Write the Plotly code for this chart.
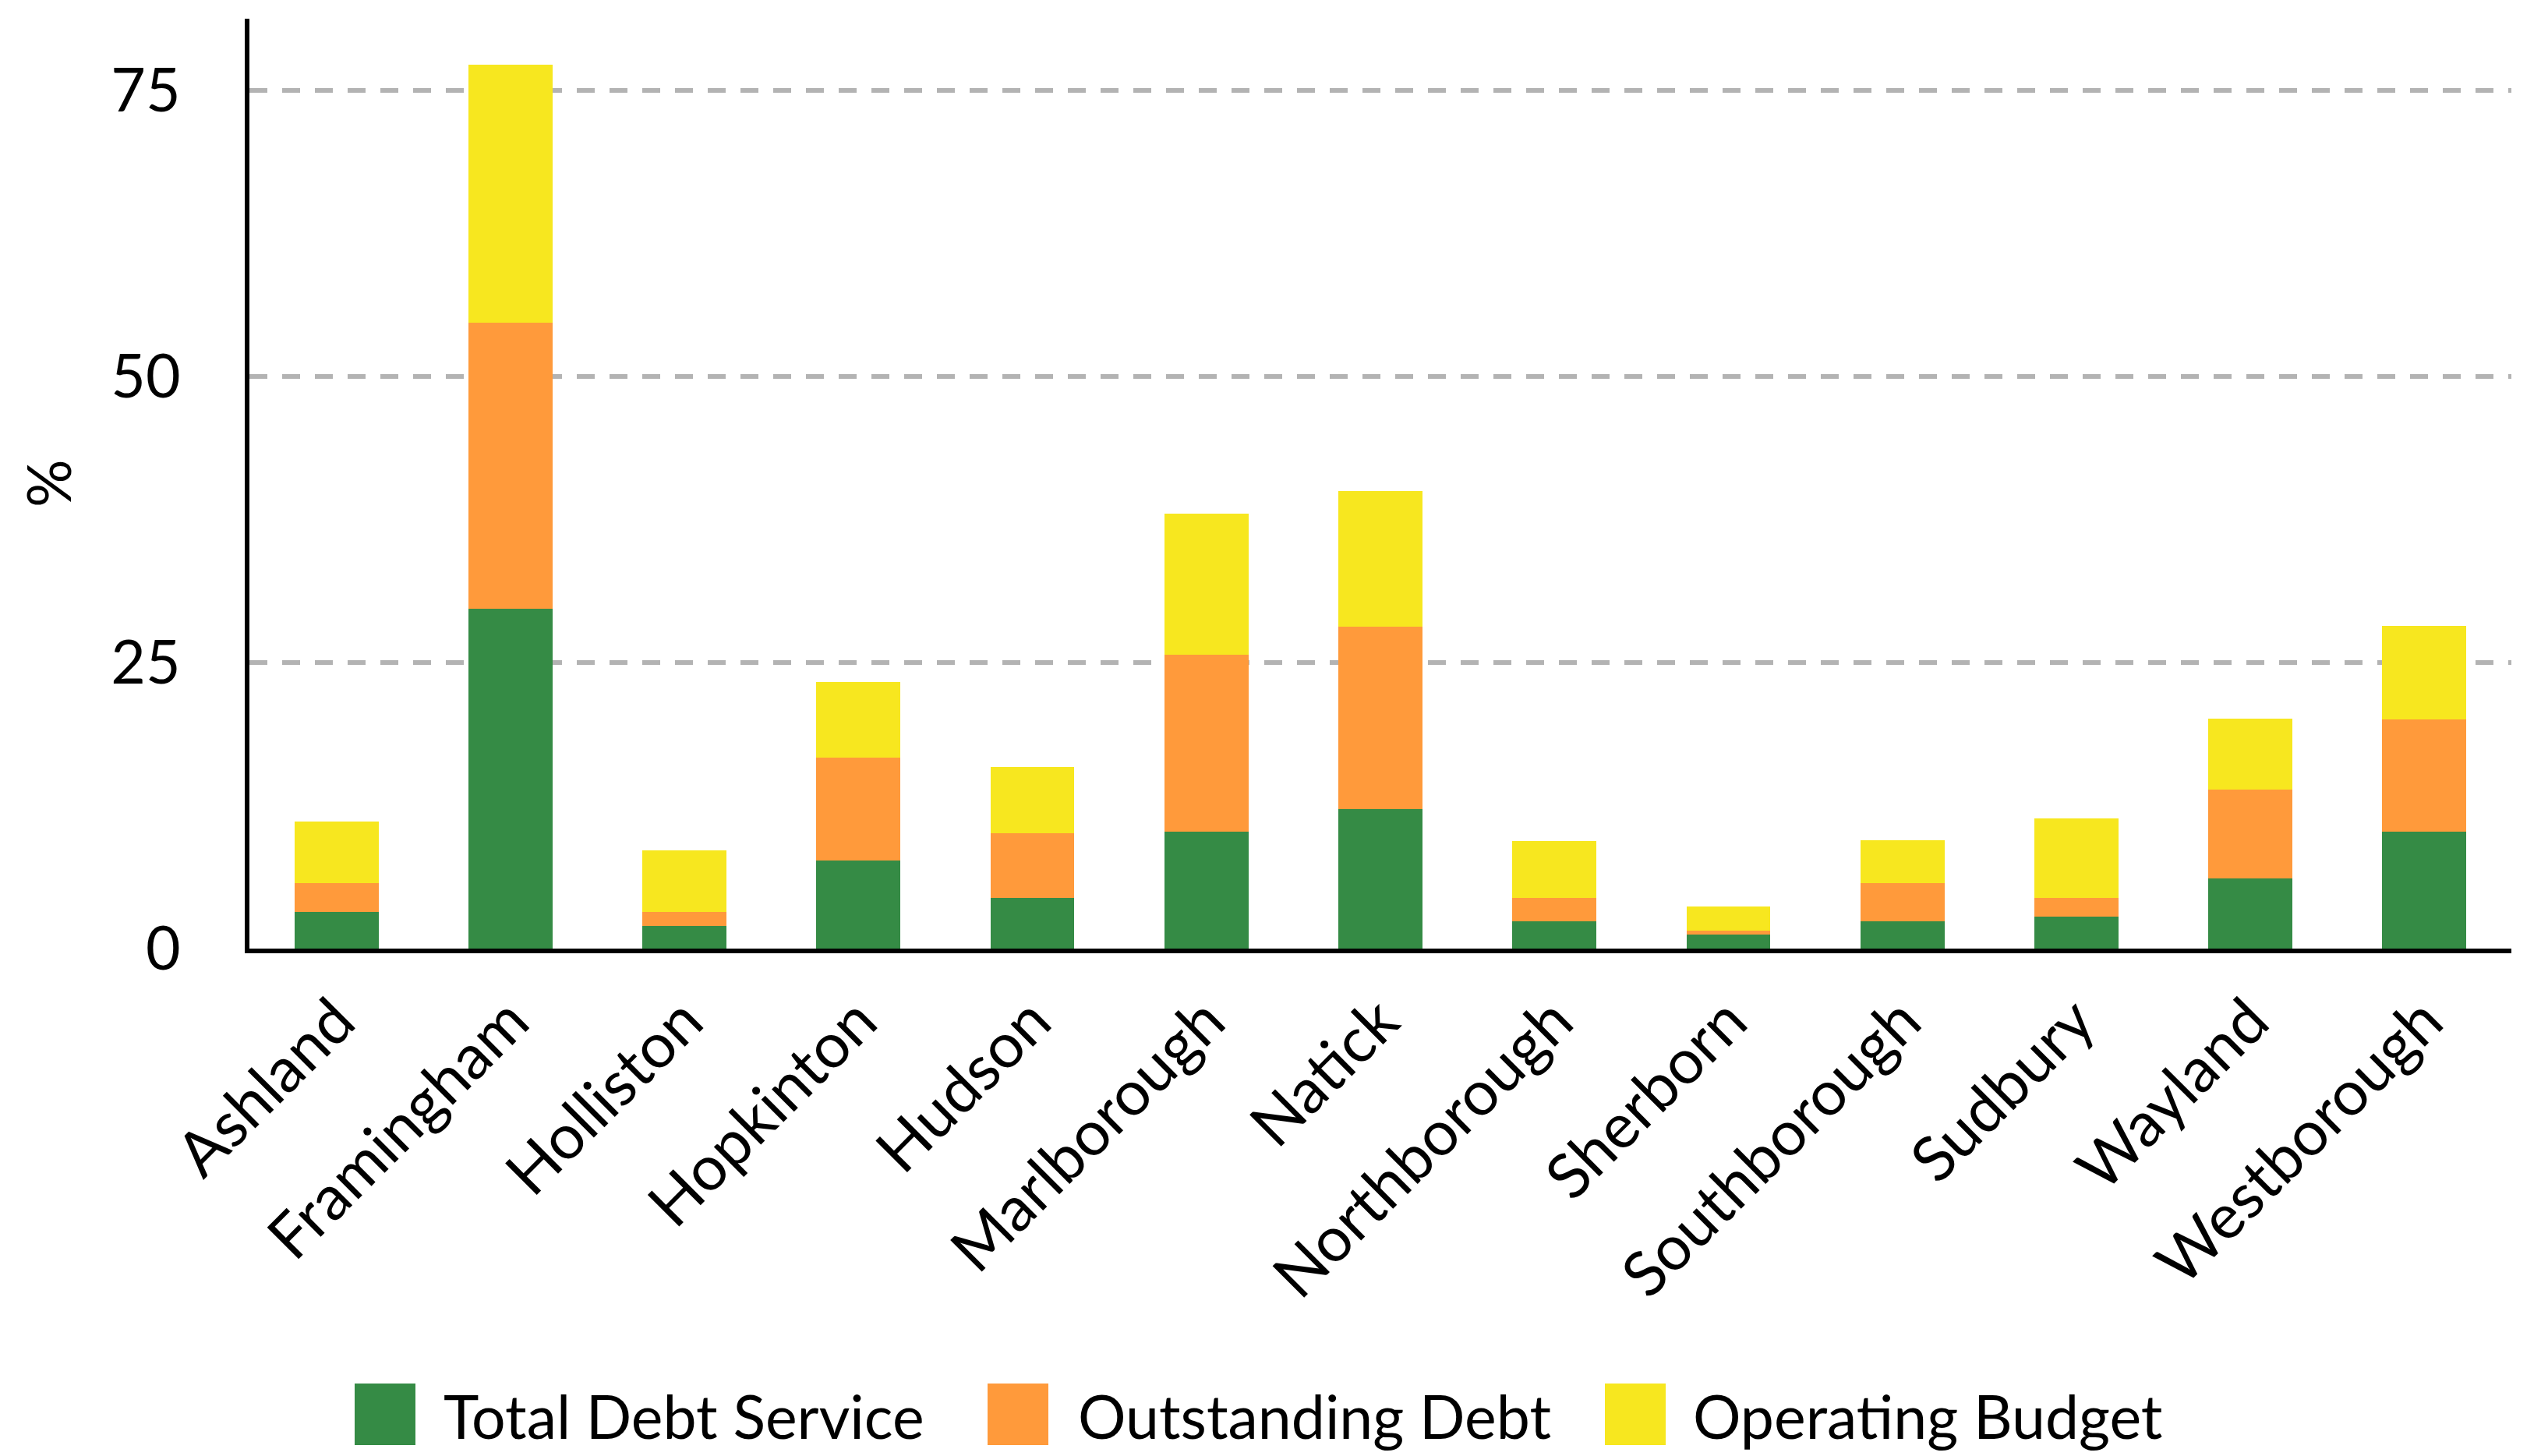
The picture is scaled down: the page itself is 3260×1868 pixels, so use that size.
import plotly.graph_objects as go

# Municipalities on the x axis
towns = ["Ashland", "Framingham", "Holliston", "Hopkinton", "Hudson",
         "Marlborough", "Natick", "Northborough", "Sherborn", "Southborough",
         "Sudbury", "Wayland", "Westborough"]

# Stacked segment values (%)
total_debt_service = [3.2, 29.7, 2.0, 7.7, 4.4, 10.2, 12.2, 2.4, 1.2, 2.4, 2.8, 6.1, 10.2]
outstanding_debt = [2.5, 25.0, 1.2, 9.0, 5.7, 15.5, 15.9, 2.0, 0.4, 3.3, 1.6, 7.8, 9.8]
operating_budget = [5.4, 22.5, 5.4, 6.6, 5.8, 12.3, 11.9, 5.0, 2.1, 3.8, 7.0, 6.2, 8.2]

series_names = ["Total Debt Service", "Outstanding Debt", "Operating Budget"]
series_colors = ["#358b45", "#ff9a3b", "#f7e71f"]
y_ticks = [0, 25, 50, 75]

FONT = "Lato"
FS = 77
W, H = 3260, 1868
L, R, T, B = 320, 38, 24, 651
PW, PH = W - L - R, H - T - B

fig = go.Figure()
for name, vals, col in zip(series_names,
                           [total_debt_service, outstanding_debt, operating_budget],
                           series_colors):
    fig.add_trace(go.Bar(x=towns, y=vals, name=name, marker=dict(color=col, line=dict(width=0)),
                         showlegend=False))


def px_x(px):
    return (px - L) / PW


def px_y(py):
    return (H - B - py) / PH


# Legend drawn as large swatches with labels below the plot
legend_items = [(455, 567), (1267, 1381), (2059, 2170)]
shapes = []
annotations = []
for (sx, tx), name, col in zip(legend_items, series_names, series_colors):
    shapes.append(dict(type="rect", xref="paper", yref="paper",
                       x0=px_x(sx), x1=px_x(sx + 78), y0=px_y(1854), y1=px_y(1775),
                       fillcolor=col, line=dict(width=0)))
    annotations.append(dict(text=name, xref="paper", yref="paper", x=px_x(tx), y=px_y(1816),
                            xanchor="left", yanchor="middle", showarrow=False,
                            font=dict(family=FONT, size=FS, color="black")))

annotations.append(dict(text="%", xref="paper", yref="paper", x=px_x(61), y=px_y(620),
                        xanchor="center", yanchor="middle", textangle=-90, showarrow=False,
                        font=dict(family=FONT, size=FS, color="black")))

fig.update_layout(
    width=W, height=H,
    barmode="stack", bargap=0.517,
    margin=dict(l=L, r=R, t=T, b=B, pad=0),
    paper_bgcolor="white", plot_bgcolor="white",
    font=dict(family=FONT, size=FS, color="black"),
    shapes=shapes, annotations=annotations,
    showlegend=False,
)
fig.update_xaxes(showline=True, linecolor="black", linewidth=6, showgrid=False,
                 tickangle=-45, ticks="", range=[-0.5, 12.5],
                 ticklabelstandoff=8,
                 tickfont=dict(family=FONT, size=80, color="black"))
fig.update_yaxes(showline=True, linecolor="black", linewidth=6, range=[0, 81.25],
                 tickvals=y_ticks, ticks="", zeroline=False,
                 showgrid=True, gridcolor="#b3b3b3", gridwidth=6, griddash="23px,19px",
                 ticklabelstandoff=67,
                 tickfont=dict(family=FONT, size=FS, color="black"))

fig.write_html("out.html")
